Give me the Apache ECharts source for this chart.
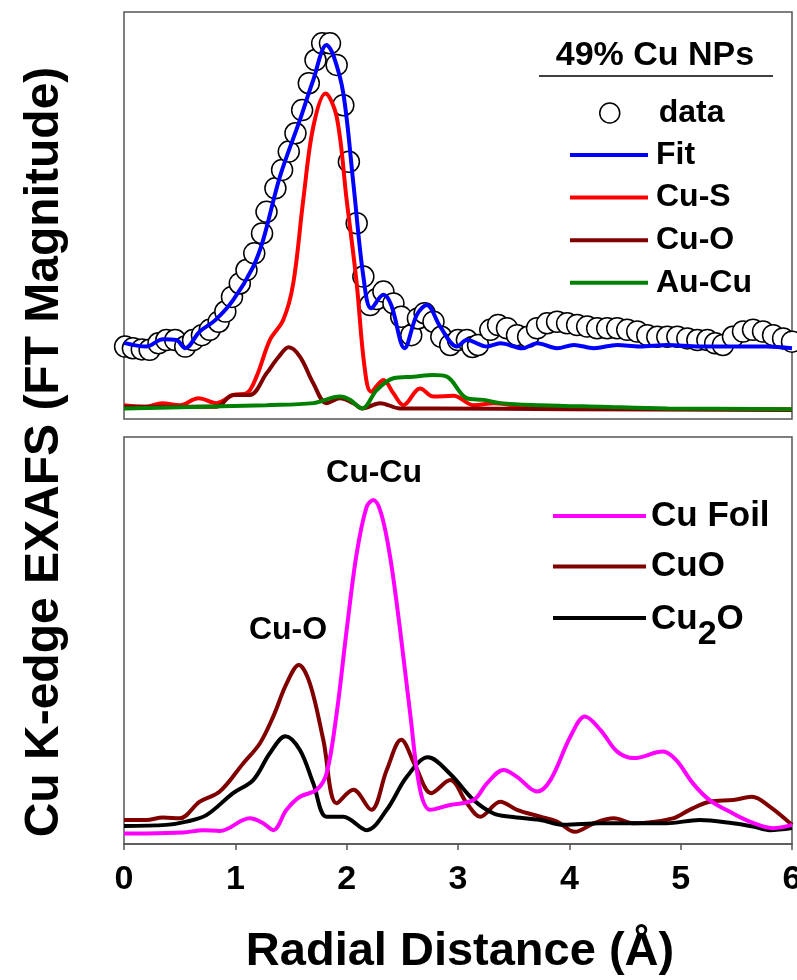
<!DOCTYPE html>
<html>
<head>
<meta charset="utf-8">
<script src="https://cdn.jsdelivr.net/npm/echarts@6/dist/echarts.min.js"></script>
<style>
  html, body { margin: 0; padding: 0; background: #fff; }
  #chart { width: 797px; height: 980px; }
</style>
</head>
<body>
<div id="chart"></div>
<script>
// top panel: 49% Cu NPs, [R (Å), FT magnitude in arbitrary units]
const npData = [[0.01,1.78],[0.08,1.74],[0.16,1.71],[0.23,1.70],[0.31,1.86],[0.38,1.94],[0.46,1.94],[0.55,1.78],[0.62,1.94],[0.70,2.06],[0.77,2.19],[0.85,2.39],[0.91,2.64],[0.97,3.00],[1.04,3.33],[1.10,3.66],[1.17,4.07],[1.24,4.56],[1.28,5.09],[1.36,5.67],[1.42,6.12],[1.48,6.57],[1.54,7.02],[1.60,7.59],[1.66,8.25],[1.72,8.82],[1.78,9.23],[1.85,9.23],[1.91,8.70],[1.97,7.71],[2.02,6.32],[2.09,4.81],[2.15,3.50],[2.21,2.80],[2.27,2.95],[2.33,3.13],[2.42,2.84],[2.49,2.51],[2.58,2.06],[2.64,2.47],[2.70,2.60],[2.78,2.39],[2.85,2.02],[2.93,1.82],[3.00,1.94],[3.08,1.94],[3.13,1.77],[3.18,1.82],[3.29,2.19],[3.36,2.31],[3.44,2.23],[3.53,2.06],[3.63,2.02],[3.71,2.23],[3.80,2.35],[3.89,2.39],[3.98,2.35],[4.07,2.31],[4.16,2.27],[4.25,2.23],[4.34,2.23],[4.43,2.23],[4.52,2.19],[4.61,2.15],[4.70,2.06],[4.79,2.02],[4.88,2.02],[4.97,2.02],[5.06,1.98],[5.15,1.94],[5.24,1.94],[5.31,1.86],[5.38,1.82],[5.47,2.02],[5.56,2.15],[5.65,2.19],[5.74,2.15],[5.83,2.06],[5.92,1.98],[6.00,1.90]];
const fitLine = [[0,1.87],[0.20,1.78],[0.35,1.96],[0.47,1.94],[0.55,1.74],[0.68,2.15],[0.82,2.43],[0.98,2.92],[1.16,3.74],[1.25,4.40],[1.40,5.95],[1.58,7.35],[1.70,8.33],[1.82,9.19],[1.88,8.94],[1.97,8.00],[2.06,5.79],[2.15,3.50],[2.22,2.72],[2.33,3.05],[2.40,2.80],[2.52,1.74],[2.63,2.56],[2.72,2.80],[2.84,2.27],[2.99,1.78],[3.08,1.94],[3.26,1.78],[3.38,1.86],[3.58,1.74],[3.71,1.86],[3.89,1.74],[4.04,1.82],[4.22,1.74],[4.43,1.82],[4.63,1.78],[4.88,1.82],[5.17,1.78],[5.47,1.78],[5.77,1.78],[6.00,1.74]];
const cuSLine = [[0,0.34],[0.20,0.30],[0.34,0.39],[0.50,0.34],[0.67,0.51],[0.83,0.39],[0.98,0.59],[1.10,0.63],[1.19,1.04],[1.31,1.94],[1.43,2.43],[1.52,3.33],[1.61,5.38],[1.70,7.18],[1.81,8.00],[1.91,7.43],[2.00,5.38],[2.09,3.33],[2.16,1.29],[2.22,0.67],[2.33,0.96],[2.42,0.63],[2.51,0.34],[2.66,0.75],[2.78,0.55],[2.96,0.57],[3.14,0.34],[3.32,0.39],[3.67,0.27],[4.50,0.25],[6.00,0.24]];
const cuOLine = [[0,0.30],[0.83,0.30],[0.98,0.59],[1.13,0.59],[1.28,1.12],[1.39,1.53],[1.48,1.76],[1.58,1.53],[1.70,0.88],[1.82,0.39],[1.94,0.51],[2.06,0.39],[2.14,0.26],[2.30,0.39],[2.48,0.26],[2.78,0.26],[4.00,0.24],[6.00,0.22]];
const auCuLine = [[0,0.26],[0.68,0.30],[1.28,0.34],[1.70,0.39],[1.94,0.55],[2.03,0.47],[2.14,0.26],[2.27,0.71],[2.42,1.00],[2.60,1.04],[2.78,1.08],[2.90,1.04],[3.08,0.51],[3.23,0.47],[3.38,0.39],[3.74,0.34],[4.28,0.30],[4.88,0.26],[6.00,0.24]];

// bottom panel: references
const cuFoilLine = [[0,0.26],[0.20,0.26],[0.53,0.28],[0.71,0.34],[0.86,0.32],[1.13,0.63],[1.25,0.51],[1.34,0.34],[1.46,0.84],[1.58,1.16],[1.73,1.33],[1.82,1.74],[1.91,3.21],[2.00,5.26],[2.09,7.14],[2.18,8.29],[2.24,8.45],[2.31,8.12],[2.39,7.06],[2.48,5.26],[2.57,3.21],[2.66,1.33],[2.75,0.84],[2.93,0.96],[3.14,1.08],[3.26,1.49],[3.41,1.82],[3.53,1.65],[3.71,1.29],[3.83,1.57],[4.01,2.64],[4.14,3.13],[4.28,2.80],[4.43,2.27],[4.58,2.11],[4.84,2.27],[4.96,2.06],[5.11,1.49],[5.26,1.08],[5.47,0.75],[5.62,0.55],[5.83,0.39],[6.00,0.47]];
const cuOxLine = [[0,0.59],[0.20,0.59],[0.35,0.65],[0.50,0.63],[0.68,1.04],[0.86,1.29],[1.07,1.98],[1.22,2.47],[1.34,3.13],[1.46,3.94],[1.57,4.40],[1.67,3.94],[1.79,2.56],[1.91,1.00],[2.06,1.33],[2.22,0.84],[2.36,1.82],[2.49,2.56],[2.62,1.90],[2.76,1.25],[2.93,1.57],[3.08,1.00],[3.20,0.67],[3.38,1.04],[3.53,0.84],[3.74,0.67],[3.89,0.55],[4.05,0.30],[4.22,0.51],[4.40,0.63],[4.58,0.51],[4.93,0.63],[5.08,0.84],[5.26,1.04],[5.47,1.08],[5.64,1.16],[5.80,0.92],[6.00,0.47]];
const cu2OLine = [[0,0.44],[0.38,0.47],[0.56,0.55],[0.74,0.71],[0.98,1.25],[1.16,1.57],[1.31,2.23],[1.45,2.65],[1.58,2.31],[1.70,1.49],[1.82,0.67],[1.97,0.67],[2.18,0.34],[2.36,0.84],[2.54,1.65],[2.73,2.13],[2.93,1.72],[3.14,1.08],[3.32,0.75],[3.47,0.67],[3.74,0.59],[3.95,0.47],[4.28,0.51],[4.63,0.51],[4.87,0.51],[5.17,0.59],[5.47,0.51],[5.65,0.43],[5.80,0.34],[6.00,0.39]];

const xTicks = [0, 1, 2, 3, 4, 5, 6];

const FONT = '"Liberation Sans", Arial, sans-serif';
const frame = '#555';

const chart = echarts.init(document.getElementById('chart'));

function lineSeries(name, data, color, gi) {
  return {
    name: name,
    type: 'line',
    data: data,
    xAxisIndex: gi,
    yAxisIndex: gi,
    smooth: 0.35,
    symbol: 'none',
    itemStyle: { color: color },
    lineStyle: { color: color, width: 4 },
    z: 3
  };
}

function boldText(size) {
  return { fontFamily: FONT, fontWeight: 'bold', fontSize: size, color: '#000' };
}

const option = {
  animation: false,
  backgroundColor: '#fff',
  grid: [
    { left: 124, top: 12, width: 668, height: 407, show: true, borderColor: frame, borderWidth: 1.5, containLabel: false, outerBoundsMode: 'none' },
    { left: 124, top: 437, width: 668, height: 407, show: true, borderColor: frame, borderWidth: 1.5, containLabel: false, outerBoundsMode: 'none' }
  ],
  xAxis: [
    {
      gridIndex: 0, type: 'value', min: 0, max: 6, interval: 1,
      axisLine: { show: false }, axisTick: { show: false },
      axisLabel: { show: false }, splitLine: { show: false }
    },
    {
      gridIndex: 1, type: 'value', min: 0, max: 6, interval: 1,
      axisLine: { show: true, onZero: false, lineStyle: { color: frame, width: 1.5 } },
      axisTick: { show: true, inside: false, length: 6, lineStyle: { color: frame, width: 1.5 } },
      axisLabel: Object.assign(boldText(34), {
        margin: 19, showMinLabel: true, showMaxLabel: true,
        formatter: v => xTicks.indexOf(v) >= 0 ? String(v) : ''
      }),
      splitLine: { show: false }
    }
  ],
  yAxis: [
    { gridIndex: 0, type: 'value', min: 0, max: 10, show: false, splitLine: { show: false } },
    { gridIndex: 1, type: 'value', min: 0, max: 10, show: false, splitLine: { show: false } }
  ],
  legend: [
    {
      data: ['data'], orient: 'vertical', left: 599, top: 95, padding: 0,
      selectedMode: false, icon: 'circle', itemWidth: 20, itemHeight: 20,
      itemStyle: { color: '#fff', borderColor: '#000', borderWidth: 1.5 },
      textStyle: Object.assign(boldText(32), { lineHeight: 36, padding: [0, 0, 0, 34] })
    },
    {
      data: ['Fit', 'Cu-S', 'Cu-O', 'Au-Cu'], orient: 'vertical', left: 570, top: 137,
      padding: 0, itemGap: 6.6, selectedMode: false, icon: 'rect',
      itemWidth: 78, itemHeight: 4, itemStyle: { borderWidth: 0 },
      textStyle: Object.assign(boldText(32), { lineHeight: 36, padding: [0, 0, 0, 3] })
    },
    {
      data: ['Cu Foil', 'CuO'], orient: 'vertical', left: 553, top: 496,
      padding: 0, itemGap: 10.5, selectedMode: false, icon: 'rect',
      itemWidth: 93, itemHeight: 4, itemStyle: { borderWidth: 0 },
      textStyle: Object.assign(boldText(35), { lineHeight: 40 })
    },
    {
      data: ['Cu2O'], orient: 'vertical', left: 553, top: 590,
      padding: 0, selectedMode: false, icon: 'rect',
      itemWidth: 93, itemHeight: 4, itemStyle: { borderWidth: 0 },
      formatter: () => '{n|Cu}{s|2}{n|O}',
      textStyle: {
        fontFamily: FONT, fontWeight: 'bold', fontSize: 35, color: '#000',
        padding: [0, 0, 16, 0],
        rich: {
          n: { fontFamily: FONT, fontWeight: 'bold', fontSize: 35, color: '#000', lineHeight: 40, padding: [12, 0, 28, 0], verticalAlign: 'top' },
          s: { fontFamily: FONT, fontWeight: 'bold', fontSize: 34, color: '#000', lineHeight: 40, padding: [28, 0, 0, 0], verticalAlign: 'top' }
        }
      }
    }
  ],
  series: [
    {
      name: 'data', type: 'scatter', data: npData,
      xAxisIndex: 0, yAxisIndex: 0, clip: false,
      symbol: 'circle', symbolSize: 21,
      itemStyle: { color: '#fff', borderColor: '#000', borderWidth: 1.5, opacity: 1 },
      z: 2
    },
    lineSeries('Cu-S', cuSLine, '#ff0000', 0),
    lineSeries('Cu-O', cuOLine, '#800000', 0),
    lineSeries('Au-Cu', auCuLine, '#008000', 0),
    lineSeries('Fit', fitLine, '#0000ff', 0),
    lineSeries('CuO', cuOxLine, '#800000', 1),
    lineSeries('Cu2O', cu2OLine, '#000000', 1),
    lineSeries('Cu Foil', cuFoilLine, '#ff00ff', 1)
  ],
  graphic: [
    {
      type: 'text', x: 655, y: 56,
      style: { text: '49% Cu NPs', font: 'bold 34px ' + FONT, fill: '#000', textAlign: 'center', textVerticalAlign: 'middle' }
    },
    {
      type: 'line', shape: { x1: 539, y1: 76, x2: 773, y2: 76 },
      style: { stroke: '#000', lineWidth: 1.5 }
    },
    {
      type: 'text', x: 374, y: 473,
      style: { text: 'Cu-Cu', font: 'bold 32px ' + FONT, fill: '#000', textAlign: 'center', textVerticalAlign: 'middle' }
    },
    {
      type: 'text', x: 288, y: 630,
      style: { text: 'Cu-O', font: 'bold 32px ' + FONT, fill: '#000', textAlign: 'center', textVerticalAlign: 'middle' }
    },
    {
      type: 'text', x: 460, y: 952,
      style: { text: 'Radial Distance (Å)', font: 'bold 47px ' + FONT, fill: '#000', textAlign: 'center', textVerticalAlign: 'middle' }
    },
    {
      type: 'text', x: 45, y: 452, rotation: Math.PI / 2,
      style: { text: 'Cu K-edge EXAFS (FT Magnitude)', font: 'bold 48px ' + FONT, fill: '#000', textAlign: 'center', textVerticalAlign: 'middle' }
    }
  ]
};

chart.setOption(option);
</script>
</body>
</html>
